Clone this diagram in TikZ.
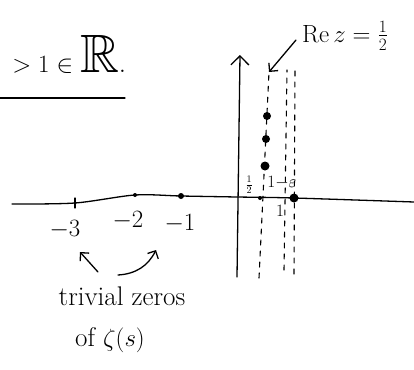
\documentclass[tikz,border=0pt]{standalone}
\usepackage{amsmath,amssymb}
\usetikzlibrary{arrows.meta,positioning}

\begin{document}
\begin{tikzpicture}[x=1pt,y=-1pt,
    pen/.style={line width=1.3pt,line cap=round,black},
    barb/.style={pen,-{Straight Barb[length=6pt,width=12pt]}},
    strip/.style={pen,line width=1.1pt,dash pattern=on 5pt off 6pt},
    lbl/.style={inner sep=0pt,font=\fontsize{25}{27}\selectfont},
    zero/.style={circle,fill=black,inner sep=0pt,minimum size=#1}
  ]
    \useasboundingbox (0,0) rectangle (414,369);
    % heading, cut at the left edge
    \node[inner sep=0pt,anchor=east,font=\fontsize{54}{58}\selectfont] (title) at (126,54) {$>1\in\mathbb{R}.$};
    \coordinate (ulA) at (0,98);
    \coordinate (ulB) at (125,98);
    \draw[pen] (ulA)--(ulB);
    % axes
    \coordinate (xl) at (12,204);
    \coordinate (xr) at (414,202);
    \draw[pen] plot[smooth,tension=0.5] coordinates {(xl) (75,203) (135,195) (181,196) (237,197) (294,198) (xr)};
    \coordinate (ylo) at (237,277);
    \coordinate (yhi) at (240,55);
    \draw[pen,-{Straight Barb[length=9pt,width=18pt]}] (ylo)--(yhi);
    % critical strip
    \coordinate (sAlo) at (259,278); \coordinate (sAhi) at (269,72);
    \coordinate (sBlo) at (284,270); \coordinate (sBhi) at (287,70);
    \coordinate (sClo) at (294,274); \coordinate (sChi) at (295,68);
    \draw[strip] (sAlo)--(sAhi);
    \draw[strip] (sBlo)--(sBhi);
    \draw[strip] (sClo)--(sChi);
    % zeros
    \node[zero=8pt] (z1) at (267,116) {};
    \node[zero=8pt] (z2) at (266,139) {};
    \node[zero=9pt] (z3) at (265,166) {};
    \node[zero=4pt] (pHalf) at (260,198) {};
    \node[zero=9pt] (pOne) at (294,198) {};
    \node[zero=6pt] (pmone) at (181,196) {};
    \node[zero=4pt] (pmtwo) at (135,195) {};
    \draw[pen] (75,198)--(75,208);
    % labels on the axis
    \node[lbl] (mthree) at (65,230) {$-3$};
    \node[lbl] (mtwo) at (128,221) {$-2$};
    \node[lbl] (mone) at (180,224) {$-1$};
    \node[inner sep=0pt,font=\fontsize{14}{14}\selectfont] (half) at (249,185) {$\frac{1}{2}$};
    \node[inner sep=0pt,font=\fontsize{16}{16}\selectfont] (oneeps) at (282,183) {$1{-}\varepsilon$};
    \node[inner sep=0pt,font=\fontsize{18}{18}\selectfont] (one) at (280,211) {$1$};
    \node[lbl,anchor=west,font=\fontsize{26}{28}\selectfont] (rez) at (302,36) {$\mathrm{Re}\,z=\frac{1}{2}$};
    \draw[barb] (rez.west)++(-6,4) coordinate (rtail) (rtail)--(sAhi);
    % trivial zeros
    \node[lbl,font=\fontsize{27}{29}\selectfont] (trivial) at (122,296) {trivial zeros};
    \node[lbl,font=\fontsize{27}{29}\selectfont] (ofzeta) at (110,340) {of $\zeta(s)$};
    \coordinate (tA) at (98,272); \coordinate (hA) at (80,252);
    \coordinate (tB) at (118,275); \coordinate (hB) at (156,250);
    \draw[barb] (tA)--(hA);
    \draw[barb] (tB) to[bend right=30] (hB);
\end{tikzpicture}
\end{document}
